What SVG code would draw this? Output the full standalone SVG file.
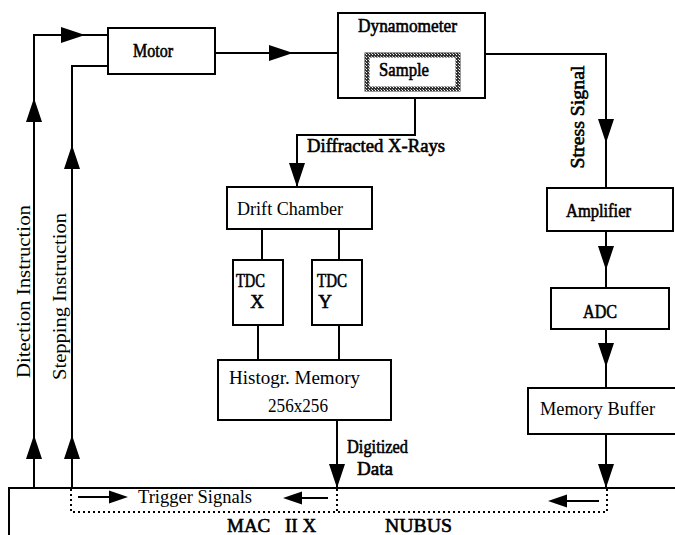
<svg xmlns="http://www.w3.org/2000/svg" xmlns:xlink="http://www.w3.org/1999/xlink" width="675" height="535" viewBox="0 0 675 535">
<style>
.box{fill:#fff;stroke:#000;stroke-width:2}
.ln{fill:none;stroke:#000;stroke-width:2}
.dot{fill:none;stroke:#000;stroke-width:2;stroke-dasharray:2 3}
.t{font-family:"Liberation Serif","Times New Roman",serif;fill:#000;font-size:19px}
.h{stroke:#000;stroke-width:0.6}
.m{text-anchor:middle}
</style>
<defs>
<path id="ah" d="M0,0 L-24,-8 L-24,8 Z" fill="#000"/>
<path id="as" d="M0,0 L-19,-6.5 L-19,6.5 Z" fill="#000"/>
<pattern id="hatch" width="3" height="3" patternUnits="userSpaceOnUse">
<rect width="3" height="3" fill="#333"/>
<rect width="1" height="1" fill="#fff"/>
<rect x="2" y="2" width="1" height="1" fill="#bbb"/>
</pattern>
</defs>
<rect width="675" height="535" fill="#fff"/>

<g id="connectors">
<polyline class="ln" points="34,488 34,35 108,35"/>
<use xlink:href="#ah" transform="translate(85,35)"/>
<use xlink:href="#ah" transform="translate(34,98) rotate(-90)"/>
<use xlink:href="#ah" transform="translate(34,435) rotate(-90)"/>
<polyline class="ln" points="72,488 72,66 108,66"/>
<use xlink:href="#ah" transform="translate(72,145) rotate(-90)"/>
<use xlink:href="#ah" transform="translate(72,435) rotate(-90)"/>
<line class="ln" x1="215" y1="53" x2="338" y2="53"/>
<use xlink:href="#ah" transform="translate(293,53)"/>
<polyline class="ln" points="485,54 606,54 606,188"/>
<use xlink:href="#ah" transform="translate(606,143) rotate(90)"/>
<rect x="411" y="90" width="8" height="8" fill="#000"/>
<polyline class="ln" points="415,98 415,135 297,135 297,187"/>
<use xlink:href="#ah" transform="translate(297,187) rotate(90)"/>
<line class="ln" x1="262" y1="229" x2="262" y2="260"/>
<line class="ln" x1="339" y1="229" x2="339" y2="260"/>
<line class="ln" x1="258" y1="325" x2="258" y2="360"/>
<line class="ln" x1="339" y1="325" x2="339" y2="360"/>
<line class="ln" x1="606" y1="231" x2="606" y2="288"/>
<use xlink:href="#ah" transform="translate(606,270) rotate(90)"/>
<line class="ln" x1="606" y1="329" x2="606" y2="388"/>
<use xlink:href="#ah" transform="translate(606,367) rotate(90)"/>
<line class="ln" x1="606" y1="434" x2="606" y2="488"/>
<use xlink:href="#ah" transform="translate(606,488) rotate(90)"/>
<line class="ln" x1="337" y1="420" x2="337" y2="488"/>
<use xlink:href="#ah" transform="translate(337,488) rotate(90)"/>
<polyline class="ln" points="9,535 9,488 675,488"/>
<polyline class="dot" points="71,489 71,512 607,512 607,489"/>
<line class="dot" x1="337" y1="489" x2="337" y2="512"/>
<line class="ln" x1="78" y1="497" x2="112" y2="497"/>
<use xlink:href="#as" transform="translate(128,497)"/>
<line class="ln" x1="298" y1="498" x2="328" y2="498"/>
<use xlink:href="#as" transform="translate(283,498) rotate(180)"/>
<line class="ln" x1="563" y1="501" x2="599" y2="501"/>
<use xlink:href="#as" transform="translate(548,501) rotate(180)"/>
</g>

<g id="motor">
<rect class="box" x="108" y="28" width="107" height="46"/>
<text class="t h" x="133" y="57" font-size="20" textLength="40" lengthAdjust="spacingAndGlyphs">Motor</text>
</g>
<g id="dynamometer">
<rect class="box" x="338" y="13" width="147" height="85"/>
<text class="t h" x="358" y="32" font-size="18" textLength="99" lengthAdjust="spacingAndGlyphs">Dynamometer</text>
</g>
<g id="sample">
<rect x="367" y="55" width="91" height="34" fill="#fff" stroke="url(#hatch)" stroke-width="5"/>
<text class="t h" x="379" y="76" textLength="50" lengthAdjust="spacingAndGlyphs">Sample</text>
</g>
<g id="drift-chamber">
<rect class="box" x="227" y="187" width="145" height="42"/>
<text class="t" x="237" y="215" textLength="106" lengthAdjust="spacingAndGlyphs">Drift Chamber</text>
</g>
<g id="tdc-x">
<rect class="box" x="233" y="260" width="50" height="65"/>
<text class="t h" x="236" y="287" textLength="29" lengthAdjust="spacingAndGlyphs">TDC</text>
<text class="t h m" x="257" y="308" font-size="18">X</text>
</g>
<g id="tdc-y">
<rect class="box" x="312" y="260" width="50" height="65"/>
<text class="t h" x="317" y="287" textLength="30" lengthAdjust="spacingAndGlyphs">TDC</text>
<text class="t h m" x="325" y="308" font-size="18">Y</text>
</g>
<g id="histogram-memory">
<rect class="box" x="218" y="360" width="173" height="60"/>
<text class="t" x="229" y="384" textLength="131" lengthAdjust="spacingAndGlyphs">Histogr. Memory</text>
<text class="t" x="268" y="412" font-size="18" textLength="60" lengthAdjust="spacingAndGlyphs">256x256</text>
</g>
<g id="amplifier">
<rect class="box" x="547" y="188" width="126" height="43"/>
<text class="t h" x="566" y="217" textLength="65" lengthAdjust="spacingAndGlyphs">Amplifier</text>
</g>
<g id="adc">
<rect class="box" x="551" y="288" width="118" height="41"/>
<text class="t h" x="583" y="318" font-size="18" textLength="34" lengthAdjust="spacingAndGlyphs">ADC</text>
</g>
<g id="memory-buffer">
<rect class="box" x="528" y="388" width="152" height="46"/>
<text class="t" x="540" y="415" textLength="115" lengthAdjust="spacingAndGlyphs">Memory Buffer</text>
</g>

<g id="labels">
<text class="t h" x="307" y="152" textLength="138" lengthAdjust="spacingAndGlyphs">Diffracted X-Rays</text>
<text class="t h m" transform="translate(584,117) rotate(-90)" textLength="103" lengthAdjust="spacingAndGlyphs">Stress Signal</text>
<text class="t m" transform="translate(30,291.5) rotate(-90)" font-size="20" textLength="173" lengthAdjust="spacingAndGlyphs">Ditection Instruction</text>
<text class="t m" transform="translate(66,296.5) rotate(-90)" font-size="20" textLength="167" lengthAdjust="spacingAndGlyphs">Stepping Instruction</text>
<text class="t h" x="347" y="453" font-size="18" textLength="61" lengthAdjust="spacingAndGlyphs">Digitized</text>
<text class="t h" x="357" y="475" font-size="18" textLength="36" lengthAdjust="spacingAndGlyphs">Data</text>
<text class="t" x="138" y="503" textLength="114" lengthAdjust="spacingAndGlyphs">Trigger Signals</text>
<text class="t h" x="227" y="532">MAC<tspan x="285">II X</tspan></text>
<text class="t h" x="385" y="532" font-size="20" textLength="67" lengthAdjust="spacingAndGlyphs">NUBUS</text>
</g>
</svg>
